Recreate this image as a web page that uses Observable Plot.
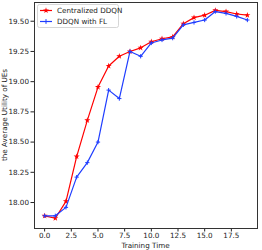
<!DOCTYPE html>
<html>
<head>
<meta charset="utf-8">
<script src="https://cdn.jsdelivr.net/npm/d3@7"></script>
<script src="https://cdn.jsdelivr.net/npm/@observablehq/plot@0.6"></script>
<style>
  html, body { margin: 0; padding: 0; background: #fff; }
  svg { font-family: "DejaVu Sans", sans-serif; }
</style>
</head>
<body>
<div id="chart"></div>
<script>
const seriesNames = ["Centralized DDQN", "DDQN with FL"];
const trainingTime = [0,1,2,3,4,5,6,7,8,9,10,11,12,13,14,15,16,17,18,19];
const centralized = [17.89,17.87,18.01,18.38,18.68,18.955,19.13,19.21,19.25,19.28,19.33,19.355,19.37,19.48,19.53,19.55,19.59,19.58,19.56,19.55];
const withFL = [17.89,17.89,17.96,18.21,18.33,18.50,18.93,18.86,19.25,19.21,19.32,19.345,19.36,19.47,19.49,19.51,19.58,19.565,19.54,19.51];
const xTicks = [0,2.5,5,7.5,10,12.5,15,17.5];
const yTicks = [18.0,18.25,18.5,18.75,19.0,19.25,19.5];

const colors = ["#ff0000", "#1f3dff"];
const rows = [];
trainingTime.forEach((t, i) => {
  rows.push({t, v: centralized[i], s: seriesNames[0]});
  rows.push({t, v: withFL[i], s: seriesNames[1]});
});

const thinPlus = {
  draw(context, size) {
    const r = Math.sqrt(size) / 2;
    context.moveTo(-r, 0); context.lineTo(r, 0);
    context.moveTo(0, -r); context.lineTo(0, r);
  }
};

const cData = rows.filter(d => d.s === seriesNames[0]);
const fData = rows.filter(d => d.s === seriesNames[1]);

const plot = Plot.plot({
  width: 262,
  height: 250,
  marginLeft: 34,
  marginRight: 5,
  marginTop: 2,
  marginBottom: 22,
  style: {fontFamily: "DejaVu Sans, sans-serif", fontSize: "7.2px", color: "#222", background: "#fff"},
  x: {domain: [-0.95, 19.95], label: null},
  y: {domain: [17.785, 19.655], label: null},
  marks: [
    Plot.axisX({ticks: xTicks, tickFormat: d => d.toFixed(1), tickSize: 3.5, tickPadding: 1, label: null, fontSize: 7.2}),
    Plot.axisY({ticks: yTicks, tickFormat: d => d.toFixed(2), tickSize: 3.5, tickPadding: 2, label: null, fontSize: 7.2}),
    Plot.line(cData, {x: "t", y: "v", stroke: colors[0], strokeWidth: 1.2}),
    Plot.dot(cData, {x: "t", y: "v", symbol: "star", fill: colors[0], r: 1.9}),
    Plot.line(fData, {x: "t", y: "v", stroke: colors[1], strokeWidth: 1.2}),
    Plot.dot(fData, {x: "t", y: "v", symbol: thinPlus, stroke: colors[1], fill: "none", strokeWidth: 1, r: 2.4}),
    Plot.frame({stroke: "#333", strokeWidth: 1})
  ]
});

const svg = d3.select(plot);
// x-axis title
svg.append("text").attr("x", 145.5).attr("y", 247.5).attr("text-anchor", "middle")
  .attr("font-size", 7.2).attr("fill", "#222").text("Training Time");
// y-axis title
svg.append("text").attr("transform", "translate(7,115) rotate(-90)").attr("text-anchor", "middle")
  .attr("font-size", 7.2).attr("fill", "#222").text("the Average Utility of UEs");

// legend
const lg = svg.append("g").attr("text-anchor", "start");
lg.append("rect").attr("x", 37.5).attr("y", 4.5).attr("width", 81).attr("height", 23)
  .attr("rx", 2).attr("fill", "#fff").attr("fill-opacity", 0.8).attr("stroke", "#ccc").attr("stroke-width", 0.8);
seriesNames.forEach((name, i) => {
  const y = 10.5 + i * 11;
  lg.append("line").attr("x1", 40).attr("x2", 52).attr("y1", y).attr("y2", y)
    .attr("stroke", colors[i]).attr("stroke-width", 1.2);
  if (i === 0) {
    lg.append("path").attr("d", d3.symbol(d3.symbolStar, 11)()).attr("transform", `translate(46,${y})`).attr("fill", colors[i]);
  } else {
    lg.append("path").attr("d", "M-2.4,0H2.4M0,-2.4V2.4").attr("transform", `translate(46,${y})`).attr("stroke", colors[i]).attr("fill", "none");
  }
  lg.append("text").attr("x", 57).attr("y", y).attr("dy", "0.35em").attr("font-size", 7.2)
    .attr("text-anchor", "start").attr("fill", "#222").text(name);
});

document.getElementById("chart").appendChild(plot);
</script>
</body>
</html>
